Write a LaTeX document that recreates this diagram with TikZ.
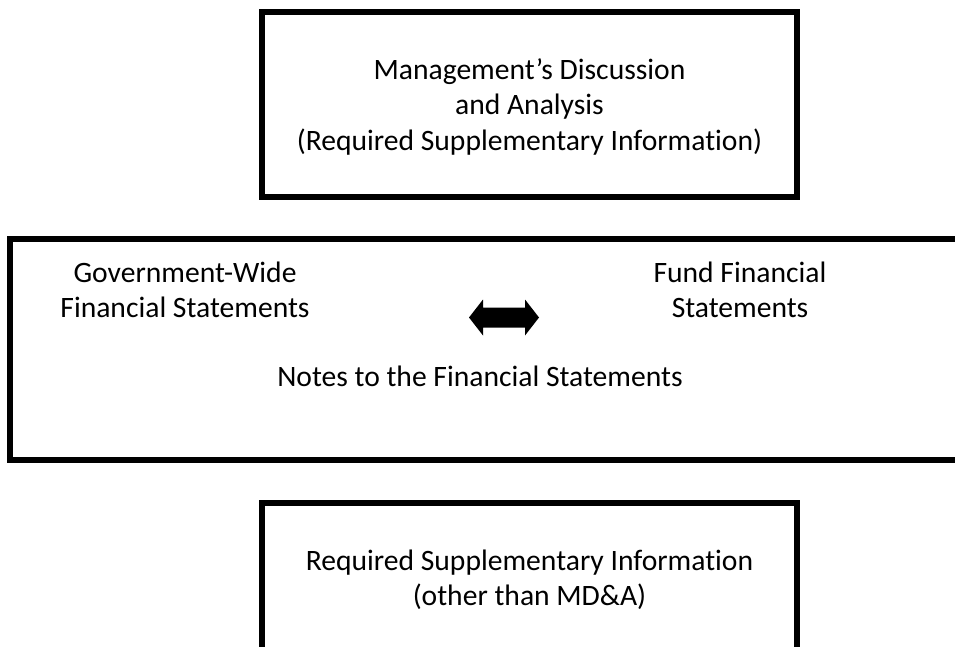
\documentclass[tikz,border=0pt]{standalone}
\usepackage{fontspec}
\setmainfont{Carlito}[Ligatures={NoCommon}]
\begin{document}
\begin{tikzpicture}[x=0.75pt,y=-0.75pt,
  frame/.style={line width=4.5pt,line cap=rect},
  label/.style={font=\fontsize{22.2}{26.6}\selectfont,align=center,anchor=base,inner sep=0pt},
  dblarrow/.style={fill=black}]
\useasboundingbox (0,0) rectangle (955,646);
% header box: MD&A
\node[draw,line width=4.5pt,minimum width=535*0.75pt,minimum height=185*0.75pt,inner sep=0pt] (mda) at (529.5,104.5) {};
\node[label] (mdatext) at (529.5,150) {Management’s Discussion\\and Analysis\\(Required Supplementary Information)};
% basic financial statements frame, open to the right
\coordinate (bfsR1) at (965,239);
\coordinate (bfsR2) at (965,460);
\draw[frame] (bfsR1) -- (10,239) coordinate (bfsTL) -- (10,460) coordinate (bfsBL) -- (bfsR2);
\node[label] (gw) at (185,317.5) {Government-Wide\\Financial Statements};
\node[label] (fund) at (740,317.5) {Fund Financial\\Statements};
\node[label] (notes) at (480,386) {Notes to the Financial Statements};
% two-headed block arrow between the statement sets
\coordinate (arrL) at (469,317.5);
\coordinate (arrR) at (539,317.5);
\fill[dblarrow] (arrL) -- ++(14,-18) -- ++(0,8) -- ++(42,0) -- ++(0,-8) -- (arrR) -- ++(-14,18) -- ++(0,-8) -- ++(-42,0) -- ++(0,8) -- cycle;
% RSI box, open at the bottom
\coordinate (rsiBL) at (262,660);
\coordinate (rsiBR) at (797,660);
\draw[frame] (rsiBL) -- (262,503) coordinate (rsiTL) -- (797,503) coordinate (rsiTR) -- (rsiBR);
\node[label] (rsi) at (529.5,605.5) {Required Supplementary Information\\(other than MD\&A)};
\end{tikzpicture}
\end{document}
